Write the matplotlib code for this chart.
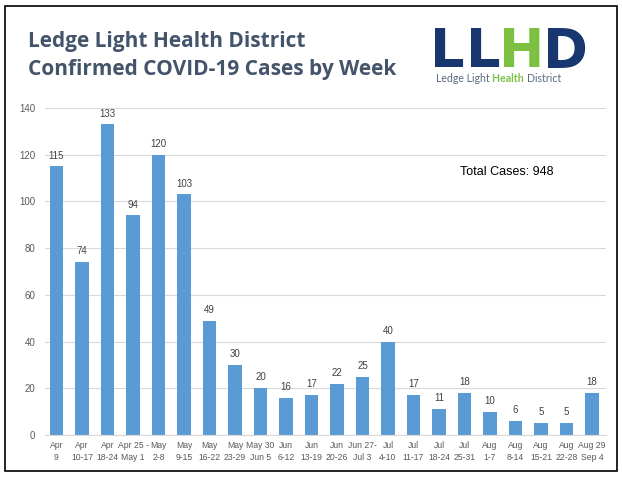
import matplotlib as mpl
mpl.use("Agg")
import matplotlib.pyplot as plt
from matplotlib.patches import Rectangle

weeks = ["Apr\n9", "Apr\n10-17", "Apr\n18-24", "Apr 25 -\nMay 1", "May\n2-8",
         "May\n9-15", "May\n16-22", "May\n23-29", "May 30\nJun 5", "Jun\n6-12",
         "Jun\n13-19", "Jun\n20-26", "Jun 27-\nJul 3", "Jul\n4-10", "Jul\n11-17",
         "Jul\n18-24", "Jul\n25-31", "Aug\n1-7", "Aug\n8-14", "Aug\n15-21",
         "Aug\n22-28", "Aug 29\nSep 4"]
cases = [115, 74, 133, 94, 120, 103, 49, 30, 20, 16, 17, 22, 25, 40, 17, 11, 18,
         10, 6, 5, 5, 18]
yticks = [0, 20, 40, 60, 80, 100, 120, 140]

W, H = 622, 479
TEXT = "#595959"
BAR = "#5b9bd5"

fig = plt.figure(figsize=(W / 100, H / 100), dpi=100)

# outer frame
fig.patches.append(Rectangle((5 / W, 8 / H), 612 / W, 465 / H,
                             transform=fig.transFigure, fill=False,
                             edgecolor="black", linewidth=1.2))

ax = fig.add_axes([45 / W, 44 / H, 561 / W, 327 / H])
xs = range(len(cases))
bars = ax.bar(xs, cases, width=0.52, color=BAR, zorder=2)
for b, v in zip(bars, cases):
	ax.text(b.get_x() + b.get_width() / 2, v + 2.5, str(v), ha="center",
	        va="bottom", fontsize=7, color="#404040", family="Liberation Sans")

ax.set_ylim(0, 140)
ax.set_xlim(-0.45, len(cases) - 0.45)
ax.set_yticks(yticks)
ax.set_xticks(list(xs))
ax.set_xticklabels(weeks, fontsize=6.2, color=TEXT, family="Liberation Sans",
                   linespacing=1.45)
ax.tick_params(axis="y", labelsize=7, labelcolor=TEXT, length=0, pad=7)
ax.tick_params(axis="x", length=0, pad=4)
for lab in ax.get_yticklabels():
	lab.set_family("Liberation Sans")
ax.grid(axis="y", color="#d9d9d9", linewidth=0.8, zorder=0)
for s in ["top", "right", "left"]:
	ax.spines[s].set_visible(False)
ax.spines["bottom"].set_color("#d9d9d9")

fig.text(460 / W, 1 - 172 / H, "Total Cases: 948", fontsize=9,
         color="black", family="Liberation Sans", va="center")

# title
fig.text(28 / W, 1 - 42 / H, "Ledge Light Health District", fontsize=15,
         fontweight="bold", color="#44546a", family="Open Sans", va="center")
fig.text(28 / W, 1 - 69 / H, "Confirmed COVID-19 Cases by Week", fontsize=15,
         fontweight="bold", color="#44546a", family="Open Sans", va="center")

# logo
NAVY = "#17376e"
GREEN = "#7cc142"
GREY = "#5a6a80"
for ch, x0, c in [("L", 435, NAVY), ("L", 471, NAVY), ("H", 504, GREEN), ("D", 548, NAVY)]:
	fig.text((x0 - 5) / W, 1 - 67 / H, ch, fontsize=39, fontweight="bold",
	         color=c, family="DejaVu Sans", va="baseline")

renderer = fig.canvas.get_renderer()
x = 436
for word, c, wt in [("Ledge Light ", GREY, "normal"), ("Health ", GREEN, "bold"),
                    ("District", GREY, "normal")]:
	t = fig.text(x / W, 1 - 79 / H, word, fontsize=7.6, color=c, fontweight=wt,
	             family="Lato", va="center")
	bb = t.get_window_extent(renderer)
	x += bb.width

fig.savefig("out.png", dpi=100)
